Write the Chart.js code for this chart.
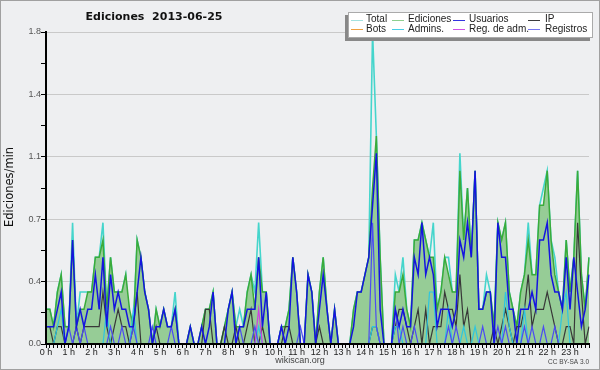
<!DOCTYPE html>
<html><head><meta charset="utf-8">
<script src="https://cdn.jsdelivr.net/npm/chart.js@4.4.1/dist/chart.umd.min.js"></script>
<style>html,body{margin:0;padding:0;background:#eeeff1}canvas{display:block}</style>
</head><body>
<canvas id="c" width="600" height="370"></canvas>
<script>
const TITLE = 'Ediciones  2013-06-25';
const Y_TITLE = 'Ediciones/min';
const HOUR_LABELS = ['0 h','1 h','2 h','3 h','4 h','5 h','6 h','7 h','8 h','9 h','10 h','11 h','12 h','13 h','14 h','15 h','16 h','17 h','18 h','19 h','20 h','21 h','22 h','23 h'];
const MINUTES = ['00','10','20','30','40','50'];
const Y_MAJOR = [0, 0.36, 0.72, 1.08, 1.44, 1.8];
const Y_LABELS = ['0.0','0.4','0.7','1.1','1.4','1.8'];
const LEGEND_NAMES = ['Total','Ediciones','Usuarios','IP','Bots','Admins.','Reg. de adm.','Registros'];

const TOTAL = [0.2,0.2,0.1,0.3,0.4,0.1, 0.1,0.7,0.1,0.3,0.3,0.3, 0.3,0.5,0.5,0.7,0.2,0.5, 0.3,0.3,0.3,0.4,0.1,0.1,
 0.6,0.5,0.3,0.2,0,0.2, 0.1,0.2,0.1,0.1,0.3,0, 0,0,0.1,0,0,0.1, 0.2,0.2,0.3,0,0,0.1,
 0.2,0.3,0.1,0.2,0.1,0.3, 0.4,0.3,0.7,0.3,0.3,0, 0,0,0.1,0.1,0.2,0.5, 0.3,0,0,0.4,0.3,0,
 0.3,0.5,0.2,0,0.2,0, 0,0,0,0.2,0.3,0.3, 0.4,0.5,1.8,1.2,0.5,0, 0,0,0.4,0.3,0.5,0.2,
 0.1,0.6,0.6,0.7,0.6,0.5, 0.7,0.2,0.3,0.5,0.5,0.3, 0.3,1.1,0.6,0.9,0.5,1.0, 0.2,0.2,0.4,0.3,0.1,0.7,
 0.6,0.7,0.3,0.2,0.1,0.3, 0.4,0.7,0.4,0.4,0.8,0.9, 1.0,0.6,0.5,0.3,0.2,0.6, 0.3,0.5,1.0,0.4,0.2,0.5];
const EDICIONES = [0.2,0.2,0.1,0.3,0.4,0.1, 0.1,0.6,0.1,0.2,0.2,0.3, 0.3,0.5,0.5,0.6,0.2,0.5, 0.3,0.3,0.3,0.4,0.2,0.1,
 0.6,0.5,0.3,0.2,0,0.2, 0.1,0.2,0.1,0.1,0.2,0, 0,0,0.1,0,0,0.1, 0.2,0.2,0.3,0,0,0.1,
 0.2,0.3,0.1,0.1,0.1,0.3, 0.4,0.2,0.5,0.3,0.3,0, 0,0,0.1,0.1,0.2,0.5, 0.3,0,0,0.4,0.3,0,
 0.3,0.5,0.2,0,0.2,0, 0,0,0,0.2,0.3,0.3, 0.4,0.5,0.9,1.2,0.5,0, 0,0,0.3,0.3,0.4,0.2,
 0.1,0.6,0.6,0.7,0.6,0.5, 0.5,0.2,0.3,0.5,0.4,0.3, 0.3,1.0,0.6,0.9,0.5,1.0, 0.2,0.2,0.3,0.3,0.1,0.7,
 0.6,0.7,0.3,0.2,0.1,0.3, 0.4,0.6,0.4,0.4,0.8,0.8, 1.0,0.6,0.4,0.3,0.2,0.6, 0.3,0.5,1.0,0.4,0.2,0.5];
const USUARIOS = [0.1,0.1,0.1,0.2,0.3,0, 0.1,0.6,0.1,0.2,0.1,0.2, 0.2,0.4,0.2,0.5,0.1,0.4, 0.2,0.3,0.2,0.2,0.1,0.1,
 0.3,0.5,0.3,0.2,0,0.1, 0.1,0.2,0.1,0.1,0.2,0, 0,0,0.1,0,0,0.1, 0,0.1,0.3,0,0,0,
 0.2,0.3,0,0.1,0.1,0.2, 0.2,0.2,0.5,0.1,0.3,0, 0,0,0.1,0,0.1,0.5, 0.3,0,0,0.4,0.3,0,
 0.2,0.4,0.2,0,0.2,0, 0,0,0,0.1,0.3,0.3, 0.4,0.5,0.8,1.1,0.2,0, 0,0,0.2,0.1,0.2,0.1,
 0.1,0.5,0.4,0.7,0.4,0.5, 0.4,0.1,0.2,0.2,0.2,0.1, 0.2,0.6,0.5,0.7,0.5,1.0, 0.2,0.2,0.3,0.3,0,0.7,
 0.5,0.5,0.2,0.2,0,0.2, 0.2,0.2,0.3,0.2,0.6,0.6, 0.7,0.4,0.3,0.3,0.2,0.5, 0.2,0.5,0.3,0.1,0.2,0.4];
const IP = [0.1,0.1,0,0.1,0.1,0, 0,0,0.1,0,0.1,0.1, 0.1,0.1,0.1,0.3,0.1,0, 0.1,0.2,0.1,0.1,0,0.1,
 0.3,0,0,0,0,0.1, 0,0,0,0,0,0, 0,0,0,0,0,0, 0.2,0.2,0,0,0,0.1,
 0,0,0.1,0,0,0.1, 0.2,0,0,0.1,0,0, 0,0,0,0.1,0.1,0, 0,0,0,0,0,0,
 0.1,0,0,0,0,0, 0,0,0,0,0,0, 0,0,0.1,0.1,0,0, 0,0,0.1,0.2,0.2,0.1,
 0,0.1,0.2,0,0.2,0, 0.1,0.1,0.1,0.3,0.2,0.2, 0.1,0.4,0.1,0.2,0,0, 0,0,0,0,0.1,0,
 0.1,0.2,0.1,0,0.1,0.1, 0.2,0.4,0.1,0.2,0.2,0.2, 0.3,0.2,0.1,0,0,0.1, 0.1,0,0.7,0.3,0,0.1];
const BOTS = [0,0,0,0,0,0, 0,0,0,0,0,0, 0,0,0,0,0,0, 0,0,0,0,0,0,
 0,0,0,0,0,0, 0,0,0,0,0,0, 0,0,0,0,0,0, 0,0,0,0,0,0,
 0,0,0,0,0,0, 0,0,0,0,0,0, 0,0,0,0,0,0, 0,0,0,0,0,0,
 0,0,0,0,0,0, 0,0,0,0,0,0, 0,0,0,0,0,0, 0,0,0,0,0,0,
 0,0,0,0,0,0, 0,0,0,0,0,0, 0,0,0,0,0,0, 0,0,0,0,0,0,
 0,0,0,0,0,0, 0,0,0,0,0,0, 0,0,0,0,0,0, 0,0,0,0,0,0];
const ADMINS = [0,0,0,0.1,0.2,0, 0,0,0,0,0,0, 0,0,0,0,0.2,0, 0,0,0,0,0,0.2,
 0,0,0,0,0,0, 0,0,0,0,0,0, 0,0,0,0,0,0, 0,0,0,0,0,0,
 0,0,0,0,0,0, 0,0,0.1,0,0,0, 0,0,0,0,0,0, 0,0,0,0,0,0,
 0,0,0,0,0,0, 0,0,0,0,0,0, 0,0,0.1,0.1,0,0, 0,0,0.1,0.1,0,0,
 0,0,0,0,0,0.3, 0.3,0,0,0,0.2,0, 0,0,0.1,0,0,0.1, 0,0,0,0,0,0,
 0,0.3,0.1,0,0,0, 0.2,0,0,0,0,0, 0,0,0,0,0.2,0.3, 0,0,0,0,0,0];
const REG_ADM = [0,0,0,0,0,0, 0,0,0,0,0,0, 0,0,0,0,0,0, 0,0,0,0,0,0,
 0,0,0,0,0,0, 0,0,0,0,0,0, 0,0,0,0,0,0, 0,0,0,0,0,0,
 0,0,0,0,0,0, 0,0,0.2,0,0,0, 0,0,0,0,0,0, 0,0,0,0,0,0,
 0,0,0,0,0,0, 0,0,0,0,0,0, 0,0,0,0,0,0, 0,0,0,0,0,0,
 0,0,0,0,0,0, 0,0,0,0,0,0, 0,0,0,0,0,0, 0,0,0,0,0,0,
 0,0,0,0,0,0, 0,0,0,0,0,0, 0,0,0,0,0,0, 0,0,0,0,0,0];
const REGISTROS = [0,0,0,0,0,0, 0.1,0,0.1,0,0.1,0, 0,0,0,0,0,0.1, 0,0,0.1,0,0,0.1,
 0,0,0,0,0.1,0, 0,0,0,0.1,0,0, 0,0,0,0,0,0, 0,0,0,0,0,0,
 0,0,0,0.1,0,0, 0,0.1,0,0,0,0, 0,0,0.1,0,0,0, 0,0.1,0,0,0,0,
 0,0,0,0,0,0, 0,0,0,0,0,0, 0,0,0.7,0.1,0,0, 0,0,0.2,0,0.1,0,
 0,0.1,0,0,0,0, 0,0,0,0,0.1,0, 0.1,0,0,0,0,0, 0,0.1,0,0,0,0.1,
 0,0.1,0,0,0,0, 0.1,0,0.1,0,0,0.1, 0,0,0.1,0,0,0, 0,0,0,0,0,0];

const SLOTS = [];
HOUR_LABELS.forEach((h, hi) => MINUTES.forEach(m => SLOTS.push(hi + ':' + m)));

const FONT = "'Liberation Sans', Arial, sans-serif";
function ds(label, data, color, width, order, extra) {
  return Object.assign({label, data, borderColor: color, borderWidth: width, pointRadius: 0,
    tension: 0, fill: false, order, borderJoinStyle: 'miter'}, extra || {});
}
const LEGEND_COLORS = ['#a4e2e0','#8fcf8f','#3434e0','#3c3c3c','#f0a040','#48cde6','#d050e6','#7676f0'];

const deco = {
  id: 'deco',
  beforeDraw(chart) {
    const c = chart.ctx; c.save(); c.fillStyle = '#eeeff1'; c.fillRect(0, 0, 600, 370); c.restore();
  },
  afterDraw(chart) {
    const c = chart.ctx; c.save();
    c.strokeStyle = '#a0a0a0'; c.lineWidth = 1; c.strokeRect(0.5, 0.5, 599, 369);
    c.fillStyle = '#111'; c.textAlign = 'center'; c.textBaseline = 'middle';
    c.font = "bold 11px 'DejaVu Sans'";
    c.fillText(TITLE, 154, 17);
    c.save(); c.translate(10, 187); c.rotate(-Math.PI / 2);
    c.font = "11.5px 'DejaVu Sans'"; c.fillText(Y_TITLE, 0, 0); c.restore();
    c.fillStyle = '#444'; c.font = '9px ' + FONT; c.fillText('wikiscan.org', 300, 361);
    c.font = '6.5px ' + FONT; c.textAlign = 'right'; c.fillText('CC BY-SA 3.0', 589, 362);
    // legend
    c.fillStyle = '#888'; c.fillRect(345, 15, 245, 26);
    c.fillStyle = '#fff'; c.fillRect(348, 12, 245, 26);
    c.strokeStyle = '#aaa'; c.strokeRect(348.5, 12.5, 244, 25);
    const colLine = [351, 392, 453, 528], colText = [366, 408, 469, 545], rows = [19.5, 29];
    c.font = '10px ' + FONT; c.textAlign = 'left'; c.textBaseline = 'middle';
    LEGEND_NAMES.forEach((n, k) => {
      const col = k % 4, row = Math.floor(k / 4), y = rows[row];
      c.strokeStyle = LEGEND_COLORS[k]; c.lineWidth = 1;
      c.beginPath(); c.moveTo(colLine[col], Math.round(y) + 0.5); c.lineTo(colLine[col] + 12, Math.round(y) + 0.5); c.stroke();
      c.fillStyle = '#222'; c.fillText(n, colText[col], y);
    });
    c.restore();
  }
};

new Chart(document.getElementById('c'), {
  type: 'line',
  data: {
    labels: SLOTS,
    datasets: [
      ds('Total', TOTAL, '#45d5cc', 1.6, 9),
      ds('Ediciones', EDICIONES, '#3aab3a', 1.5, 8, {fill: 'origin', backgroundColor: '#96cc96'}),
      ds('Usuarios', USUARIOS, '#1414e0', 1.5, 1),
      ds('IP', IP, '#383838', 1.2, 5),
      ds('Bots', BOTS, '#f0a040', 1.2, 7),
      ds('Admins.', ADMINS, '#2ec6e0', 1.2, 4),
      ds('Reg. de adm.', REG_ADM, '#d040e0', 1.2, 3),
      ds('Registros', REGISTROS, '#4c4cf2', 1.2, 2)
    ]
  },
  options: {
    responsive: false, animation: false, devicePixelRatio: 1,
    layout: {padding: {top: 32, right: 11, bottom: 0, left: 0}},
    plugins: {legend: {display: false}, title: {display: false}, tooltip: {enabled: false}},
    scales: {
      x: {
        type: 'category', offset: false,
        grid: {drawOnChartArea: false, drawTicks: true, tickLength: 4, tickColor: '#000', offset: false},
        border: {display: true, color: '#000', width: 2, z: 1},
        ticks: {autoSkip: false, maxRotation: 0, minRotation: 0, padding: -1, color: '#222',
          font: {family: FONT, size: 9},
          callback: (v, i) => (i % 6 === 0 ? HOUR_LABELS[i / 6] : '')},
        afterFit: s => { s.height = 26; }
      },
      y: {
        min: 0, max: 1.8,
        afterBuildTicks: s => {
          const t = [];
          for (let k = 0; k < Y_MAJOR.length; k++) {
            t.push({value: Y_MAJOR[k]});
            if (k < Y_MAJOR.length - 1) t.push({value: (Y_MAJOR[k] + Y_MAJOR[k + 1]) / 2});
          }
          s.ticks = t;
        },
        grid: {color: c => (c.index % 2 === 0 && c.index > 0 ? '#c9c9c9' : 'rgba(0,0,0,0)'),
          tickColor: '#000', tickLength: 5, drawTicks: true},
        border: {display: true, color: '#000', width: 2, z: 1},
        ticks: {padding: 0, color: '#555', font: {family: FONT, size: 9},
          callback: (v, i) => (i % 2 === 0 ? Y_LABELS[i / 2] : '')},
        afterFit: s => { s.width = 46; }
      }
    }
  },
  plugins: [deco]
});
</script>
</body></html>
